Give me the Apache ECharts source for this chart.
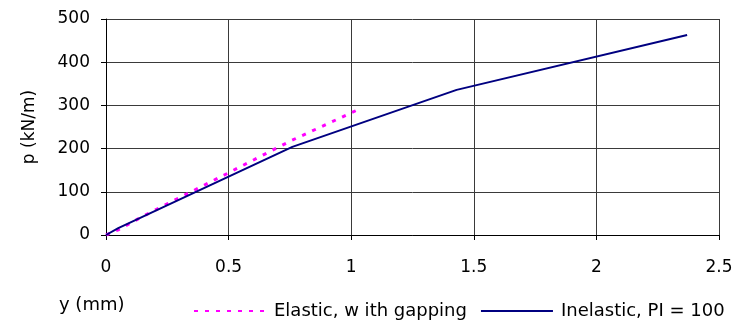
<!DOCTYPE html>
<html>
<head>
<meta charset="utf-8">
<script src="https://cdn.jsdelivr.net/npm/echarts@6/dist/echarts.min.js"></script>
<style>
  html, body { margin: 0; padding: 0; background: #fff; }
  #chart { width: 738px; height: 324px; }
</style>
</head>
<body>
<div id="chart"></div>
<script>
// p-y curves
const elasticY = [0, 0.05, 0.14, 0.25, 0.5, 0.75, 1.02]
const elasticP = [0, 12, 40, 72, 144, 217, 288]
const inelasticY = [0, 0.05, 0.76, 1.43, 2.37]
const inelasticP = [0, 16, 204, 336, 463]

const seriesNames = ['Elastic, w ith gapping', 'Inelastic, PI = 100']
const xTicks = { min: 0, max: 2.5, interval: 0.5 }
const yTicks = { min: 0, max: 500, interval: 100 }

const font = 'DejaVu Sans'
const zip = (xs, ys) => xs.map((x, i) => [x, ys[i]])

const chart = echarts.init(document.getElementById('chart'), null, { renderer: 'canvas' })

chart.setOption({
  animation: false,
  backgroundColor: '#fff',
  textStyle: { fontFamily: font, fontSize: 17, color: '#000' },
  grid: { left: 106, right: 19, top: 19, bottom: 89, containLabel: false },
  title: {
    text: 'y (mm)',
    left: 59,
    top: 296,
    padding: 0,
    textStyle: { fontFamily: font, fontSize: 18, fontWeight: 'normal', color: '#000' },
  },
  legend: {
    left: 193,
    top: 302,
    padding: 0,
    itemWidth: 72,
    itemHeight: 12,
    itemGap: 13,
    // line only in the legend keys, no marker dot
    itemStyle: { opacity: 0 },
    textStyle: { fontFamily: font, fontSize: 18, color: '#000', padding: [0, 0, 0, 3] },
    data: seriesNames,
  },
  xAxis: {
    type: 'value',
    ...xTicks,
    axisLine: { lineStyle: { color: '#000', width: 1 } },
    axisTick: { show: true, inside: false, length: 5, lineStyle: { color: '#000' } },
    axisLabel: { margin: 24, color: '#000', fontSize: 17, fontFamily: font },
    splitLine: { show: true, lineStyle: { color: '#3a3a3a', width: 1 } },
  },
  yAxis: {
    type: 'value',
    ...yTicks,
    name: 'p (kN/m)',
    nameLocation: 'middle',
    nameGap: 68,
    nameTextStyle: { fontFamily: font, fontSize: 17, color: '#000' },
    axisLine: { show: true, lineStyle: { color: '#000', width: 1 } },
    axisTick: { show: true, inside: false, length: 5, lineStyle: { color: '#000' } },
    axisLabel: { margin: 16, color: '#000', fontSize: 17, fontFamily: font },
    splitLine: { show: true, lineStyle: { color: '#3a3a3a', width: 1 } },
  },
  series: [
    {
      name: seriesNames[0],
      type: 'line',
      data: zip(elasticY, elasticP),
      symbol: 'none',
      z: 3,
      lineStyle: { color: '#ff00ff', width: 3, type: [4, 7] },
      itemStyle: { color: '#ff00ff' },
    },
    {
      name: seriesNames[1],
      type: 'line',
      data: zip(inelasticY, inelasticP),
      symbol: 'none',
      z: 4,
      lineStyle: { color: '#000080', width: 2 },
      itemStyle: { color: '#000080' },
    },
  ],
})
</script>
</body>
</html>
